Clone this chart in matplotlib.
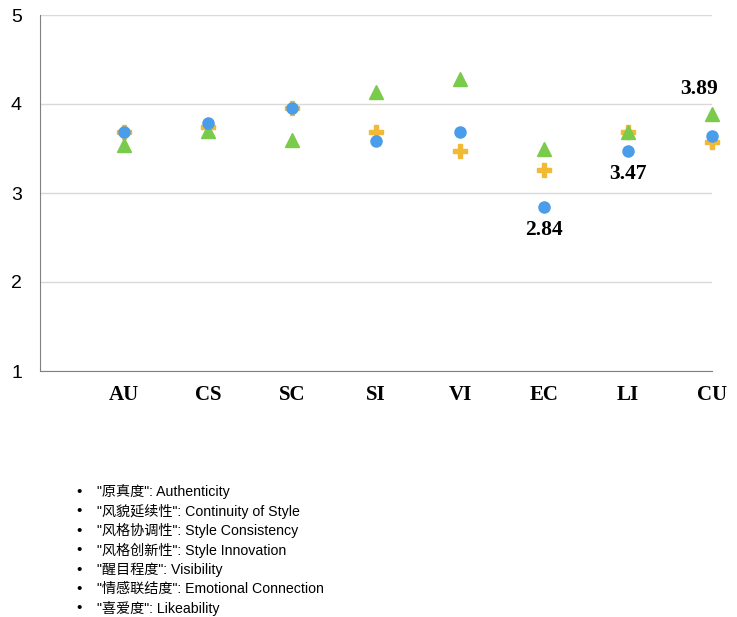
import matplotlib
matplotlib.use("Agg")
import matplotlib.pyplot as plt

# data
categories = ["AU", "CS", "SC", "SI", "VI", "EC", "LI", "CU"]
blue_vals = [3.69, 3.79, 3.95, 3.58, 3.69, 2.84, 3.47, 3.64]
orange_vals = [3.68, 3.74, 3.95, 3.69, 3.47, 3.26, 3.68, 3.57]
green_vals = [3.54, 3.70, 3.60, 4.13, 4.28, 3.49, 3.68, 3.89]
y_ticks = [1, 2, 3, 4, 5]

# annotated points: (category index, value, placement)
notes = [(5, 2.84, "below"), (6, 3.47, "below"), (7, 3.89, "above")]

legend_lines = [
    '"原真度": Authenticity',
    '"风貌延续性": Continuity of Style',
    '"风格协调性": Style Consistency',
    '"风格创新性": Style Innovation',
    '"醒目程度": Visibility',
    '"情感联结度": Emotional Connection',
    '"喜爱度": Likeability',
]

sans = ["Liberation Sans", "Noto Sans CJK SC", "DejaVu Sans"]
serif = ["Liberation Serif", "DejaVu Serif"]

fig = plt.figure(figsize=(7.37, 6.17), dpi=100)
ax = fig.add_axes([40 / 737, 1 - 371 / 617, 672 / 737, 356 / 617])

xs = list(range(1, len(categories) + 1))
ax.plot(xs, orange_vals, linestyle="none", marker="P", markersize=10,
        color="#F2B935", zorder=3, clip_on=False)
ax.plot(xs, green_vals, linestyle="none", marker="^", markersize=9.5,
        color="#7ACB4C", zorder=4, clip_on=False)
ax.plot(xs, blue_vals, linestyle="none", marker="o", markersize=8,
        color="#4A9DEB", zorder=5, clip_on=False)

for i, v, where in notes:
    if where == "below":
        ax.annotate(f"{v:.2f}", (xs[i], v), xytext=(0, -9), textcoords="offset points",
                    ha="center", va="top", fontsize=15.5, fontweight="bold", family=serif)
    else:
        ax.annotate(f"{v:.2f}", (xs[i], v), xytext=(-9, 11), textcoords="offset points",
                    ha="center", va="bottom", fontsize=15.5, fontweight="bold", family=serif)

ax.set_xlim(0, 8)
ax.set_ylim(1, 5)
ax.set_yticks(y_ticks)
ax.set_yticklabels([str(t) for t in y_ticks], family=sans, fontsize=14)
ax.set_xticks(xs)
ax.set_xticklabels(categories, family=serif, fontsize=15, fontweight="bold")
ax.tick_params(axis="both", length=0)
ax.tick_params(axis="y", pad=13)
ax.tick_params(axis="x", pad=10)

ax.grid(axis="y", color="#D9D9D9", linewidth=1)
ax.set_axisbelow(True)
for s in ["top", "right"]:
    ax.spines[s].set_visible(False)
ax.spines["left"].set_color("#808080")
ax.spines["bottom"].set_color("#808080")

for k, line in enumerate(legend_lines):
    y = 1 - (492 + k * 19.4) / 617
    fig.text(76 / 737, y, "•", ha="left", va="center", fontsize=11, family=sans)
    fig.text(97 / 737, y, line, ha="left", va="center", fontsize=10.2, family=sans)

fig.savefig("out.png", dpi=100)
